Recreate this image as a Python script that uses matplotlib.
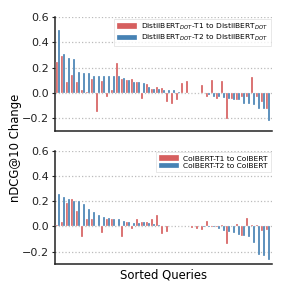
import matplotlib
matplotlib.use("Agg")
import matplotlib.pyplot as plt
import numpy as np

# ---- data ----
distil_t1 = [0.245, 0.29, 0.09, 0.14, 0.09, 0.02, 0.01, 0.11, -0.155, 0.097,
             -0.032, 0.026, 0.24, 0.108, 0.106, 0.111, 0.085, -0.045, 0.071, 0.032,
             0.045, 0.042, -0.073, -0.087, -0.057, 0.079, 0.093, 0.0, 0.0, 0.063,
             -0.03, 0.10, -0.05, 0.097, -0.206, -0.045, -0.058, -0.03, -0.03, 0.13,
             -0.03, -0.07, -0.13]
distil_t2 = [0.50, 0.31, 0.28, 0.27, 0.165, 0.16, 0.158, 0.137, 0.135, 0.132,
             0.132, 0.132, 0.132, 0.12, 0.103, 0.085, 0.085, 0.075, 0.048, 0.034,
             0.027, 0.021, 0.021, 0.019, 0.004, 0.0, 0.0, 0.0, 0.0, 0.0,
             -0.015, -0.03, -0.03, -0.04, -0.047, -0.053, -0.053, -0.087, -0.09, -0.095,
             -0.127, -0.13, -0.222]
colbert_t1 = [0.013, 0.031, 0.188, 0.22, 0.118, -0.084, 0.062, 0.062, 0.005, -0.052,
              0.062, 0.062, 0.002, -0.082, 0.031, -0.018, 0.06, 0.031, 0.031, 0.058,
              0.092, -0.06, -0.045, 0.0, 0.0, 0.0, 0.0, -0.015, -0.02, -0.03,
              0.045, -0.005, -0.005, 0.008, -0.136, 0.005, 0.022, -0.075, 0.065, 0.01,
              0.012, -0.035, -0.03]
colbert_t2 = [0.259, 0.235, 0.22, 0.203, 0.203, 0.178, 0.136, 0.11, 0.092, 0.071,
              0.065, 0.062, 0.062, 0.045, 0.031, 0.028, 0.026, 0.031, 0.024, 0.016,
              0.01, 0.006, 0.003, 0.002, 0.0, 0.0, 0.0, 0.0, 0.0, -0.002,
              -0.006, -0.008, -0.02, -0.035, -0.042, -0.052, -0.068, -0.078, -0.085, -0.128,
              -0.225, -0.238, -0.267]

top_labels = [r"DistilBERT$_{DOT}$-T1 to DistilBERT$_{DOT}$",
              r"DistilBERT$_{DOT}$-T2 to DistilBERT$_{DOT}$"]
bottom_labels = ["ColBERT-T1 to ColBERT", "ColBERT-T2 to ColBERT"]
yticks = [-0.2, 0.0, 0.2, 0.4, 0.6]

RED = "#d65f5f"
BLUE = "#4682b4"

plt.rcParams['font.family'] = ['DejaVu Sans']
plt.rcParams['mathtext.fontset'] = 'dejavusans'

fig = plt.figure(figsize=(2.81, 2.93), dpi=100)
ax1 = fig.add_axes([0.194, 0.554, 0.774, 0.387])
ax2 = fig.add_axes([0.194, 0.098, 0.774, 0.388])

w = 0.43

def draw(ax, a, b, labels):
    x = np.arange(len(a))
    ax.bar(x - w / 2, a, width=w, color=RED, edgecolor='white', linewidth=0.2,
           label=labels[0], zorder=3)
    ax.bar(x + w / 2, b, width=w, color=BLUE, edgecolor='white', linewidth=0.2,
           label=labels[1], zorder=3)
    ax.set_xlim(-0.7, len(a) - 0.2)
    ax.set_ylim(-0.3, 0.6)
    ax.set_yticks(yticks)
    ax.set_yticklabels([("\u22120.2" if t < 0 else f"{t:.1f}") for t in yticks], fontsize=8)
    ax.set_xticks([])
    ax.yaxis.grid(True, linestyle=':', color='#bbbbbb', linewidth=0.9, zorder=0)
    ax.set_axisbelow(True)
    for s in ['top', 'right']:
        ax.spines[s].set_visible(False)
    for s in ['left', 'bottom']:
        ax.spines[s].set_linewidth(1.1)
        ax.spines[s].set_color('#222222')
    ax.tick_params(axis='y', length=2.5, width=0.8, pad=1.5, colors='#222222')
    leg = ax.legend(loc='upper right', fontsize=5.4, handlelength=2.7,
                    handleheight=0.8, borderpad=0.4, labelspacing=0.15,
                    handletextpad=0.5, borderaxespad=0.2, frameon=True,
                    fancybox=False, edgecolor='#dddddd')
    leg.get_frame().set_linewidth(0.6)

draw(ax1, distil_t1, distil_t2, top_labels)
draw(ax2, colbert_t1, colbert_t2, bottom_labels)

ax2.set_xlabel("Sorted Queries", fontsize=8.4, labelpad=3)
fig.text(0.055, 0.497, "nDCG@10 Change", rotation=90, ha='center', va='center',
         fontsize=8.4)

fig.savefig("out.png", dpi=100)
